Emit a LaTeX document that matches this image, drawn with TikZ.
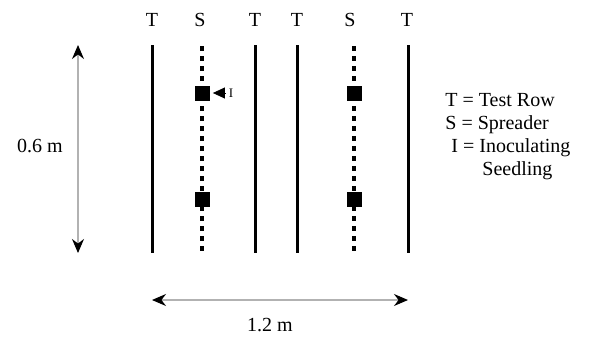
\documentclass[tikz,border=0pt]{standalone}
\usepackage{fontspec}
\setmainfont{Liberation Serif}
\usetikzlibrary{arrows.meta, positioning}

\begin{document}
\begin{tikzpicture}[
        x=0.5pt, y=-0.5pt,
        font=\fontsize{10}{12}\selectfont,
        % Fila de prueba (linea continua)
        testrow/.style={draw=black, line width=1.5pt},
        % Fila dispersora (linea punteada)
        spreader/.style={draw=black, line width=2pt, dash pattern=on 2.5pt off 2.5pt},
        % Plantula inoculadora
        seedling/.style={draw=none, fill=black, minimum size=7.5pt, inner sep=0pt},
        % Encabezados de fila
        rowlabel/.style={inner sep=0pt, anchor=base},
        % Cotas
        dimension/.style={draw=gray!60, line width=0.6pt,
            {Stealth[black, length=7pt, width=6pt]}-{Stealth[black, length=7pt, width=6pt]}},
        pointer/.style={-{Triangle[black, length=6pt, width=5.5pt]}, line width=0.4pt},
        legend/.style={inner sep=0pt, anchor=base west}
    ]

        \useasboundingbox (0,0) rectangle (589,337);

        % Encabezados
        \foreach \name/\x/\txt in {tA/152/T, sA/200/S, tB/255/T, tC/297/T, sB/350/S, tD/407/T}
            \node[rowlabel] (\name) at (\x,26) {\txt};

        % Filas de prueba
        \foreach \name/\x in {ta/152, tb/255, tc/297, td/408} {
            \coordinate (\name top) at (\x,45);
            \coordinate (\name bot) at (\x,253);
            \draw[testrow] (\name top) -- (\name bot);
        }

        % Filas dispersoras
        \foreach \name/\x in {sa/202, sb/354} {
            \coordinate (\name top) at (\x,46);
            \coordinate (\name bot) at (\x,253);
            \draw[spreader] (\name top) -- (\name bot);
        }

        % Plantulas inoculadoras
        \node[seedling] (seedA) at (202,93) {};
        \node[seedling] (seedB) at (202,199) {};
        \node[seedling] (seedC) at (354,93) {};
        \node[seedling] (seedD) at (354,199) {};

        % Marca de la plantula
        \node[inner sep=0pt, font=\fontsize{6.5}{7}\selectfont] (imark) at (231,93) {I};
        \draw[pointer, shorten >=1.5pt, shorten <=1.5pt] (imark.west) -- (seedA.east);

        % Cota vertical
        \coordinate (vtop) at (78,45);
        \coordinate (vbot) at (78,253);
        \draw[dimension] (vtop) -- (vbot);
        \node[anchor=base east, inner sep=0pt] (vlabel) at (63,152) {0.6 m};

        % Cota horizontal
        \coordinate (hleft) at (152,300);
        \coordinate (hright) at (408,300);
        \draw[dimension] (hleft) -- (hright);
        \node[anchor=base, inner sep=0pt] (hlabel) at (270,331) {1.2 m};

        % Leyenda
        \node[legend] (legT) at (445,106) {T = Test Row};
        \node[legend] (legS) at (445,129) {S = Spreader};
        \node[legend] (legI) at (451,152) {I = Inoculating};
        \node[legend] (legI2) at (482,175) {Seedling};

    \end{tikzpicture}
\end{document}
